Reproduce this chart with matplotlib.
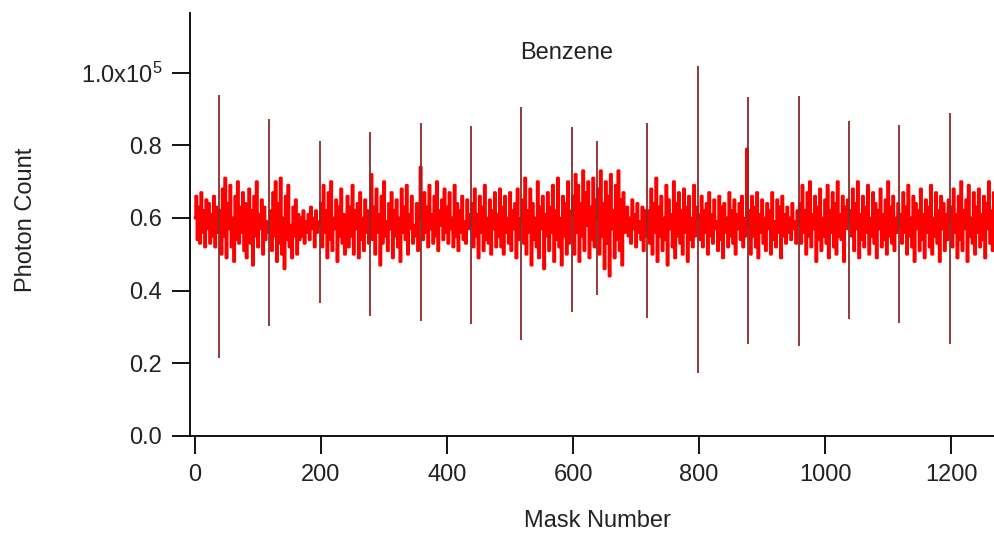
import matplotlib.pyplot as plt
import numpy as np

plt.rcParams['font.family'] = ['Liberation Sans', 'DejaVu Sans']
plt.rcParams['mathtext.fontset'] = 'custom'
plt.rcParams['mathtext.rm'] = 'Liberation Sans'
plt.rcParams['mathtext.it'] = 'Liberation Sans'

# photon counts (x1000) for every second mask number, 0..1270
counts = [
    60, 66, 54, 63, 53, 67, 56, 62, 52, 65, 57, 64, 53, 61, 55, 66, 52, 63, 56, 58,
    62, 50, 68, 55, 71, 49, 64, 57, 69, 52, 60, 48, 66, 54, 70, 53, 63, 56, 67, 51,
    64, 49, 58, 68, 53, 62, 47, 66, 55, 70, 52, 61, 57, 65, 50, 63, 54, 59, 56, 57,
    62, 51, 67, 55, 70, 48, 64, 53, 71, 50, 60, 46, 66, 54, 69, 52, 58, 49, 63, 55,
    65, 50, 61, 54, 60, 55, 62, 53, 59, 56, 61, 54, 63, 57, 60, 52, 62, 56, 59, 58,
    64, 52, 69, 56, 62, 49, 67, 54, 70, 51, 60, 57, 65, 48, 63, 55, 68, 53, 61, 50,
    58, 66, 52, 63, 55, 69, 50, 62, 57, 64, 49, 67, 54, 60, 51, 65, 56, 62, 53, 59,
    72, 54, 63, 50, 68, 56, 61, 47, 66, 53, 70, 55, 59, 51, 64, 57, 67, 49, 62, 55,
    65, 52, 60, 48, 68, 56, 63, 54, 69, 50, 61, 57, 66, 53, 58, 55, 64, 51, 62, 74,
    60, 54, 67, 56, 63, 52, 69, 57, 61, 53, 66, 55, 70, 51, 62, 58, 65, 54, 68, 56,
    63, 53, 67, 57, 60, 52, 69, 55, 64, 51, 62, 56, 66, 54, 59, 53, 65, 57, 61, 58,
    64, 52, 68, 55, 61, 49, 66, 56, 63, 51, 69, 54, 60, 53, 65, 50, 62, 57, 67, 52,
    61, 55, 68, 52, 63, 50, 66, 56, 60, 53, 67, 51, 62, 57, 64, 49, 68, 54, 59, 60,
    65, 53, 71, 50, 62, 56, 68, 47, 64, 54, 60, 52, 70, 49, 63, 57, 66, 46, 61, 55,
    67, 51, 63, 56, 69, 48, 62, 54, 71, 52, 60, 47, 66, 55, 64, 50, 70, 53, 61, 62,
    66, 50, 72, 56, 69, 48, 64, 55, 73, 51, 67, 58, 70, 49, 63, 54, 71, 52, 65, 60,
    68, 50, 73, 55, 64, 46, 70, 53, 66, 44, 72, 57, 62, 49, 69, 54, 73, 51, 65, 47,
    67, 56, 61, 63, 55, 60, 53, 65, 57, 61, 52, 64, 56, 59, 54, 63, 51, 62, 55, 58,
    62, 53, 68, 50, 64, 56, 71, 48, 63, 55, 66, 51, 60, 54, 69, 47, 65, 57, 61, 52,
    70, 49, 64, 55, 67, 53, 62, 50, 68, 56, 63, 48, 66, 54, 60, 52, 69, 55, 63, 61,
    60, 54, 66, 52, 62, 56, 64, 50, 67, 55, 61, 53, 65, 57, 59, 51, 66, 54, 63, 49,
    64, 56, 60, 52, 67, 55, 62, 53, 65, 50, 61, 57, 64, 54, 66, 52, 60, 55, 79, 58,
    62, 50, 66, 55, 63, 52, 67, 49, 61, 56, 65, 53, 60, 51, 64, 57, 62, 50, 67, 54,
    59, 52, 65, 56, 63, 49, 66, 55, 61, 53, 63, 56, 60, 54, 64, 57, 59, 53, 62, 58,
    64, 53, 69, 56, 62, 50, 67, 55, 70, 52, 61, 57, 66, 48, 63, 54, 68, 51, 60, 55,
    65, 53, 69, 49, 62, 56, 67, 52, 64, 50, 70, 55, 61, 54, 66, 48, 63, 57, 65, 59,
    62, 55, 68, 51, 64, 57, 70, 49, 61, 54, 66, 52, 63, 56, 69, 50, 60, 55, 67, 53,
    64, 49, 62, 57, 68, 52, 61, 54, 65, 50, 70, 55, 63, 53, 66, 51, 60, 56, 64, 58,
    61, 53, 67, 56, 63, 50, 69, 55, 60, 52, 66, 48, 64, 57, 62, 51, 68, 54, 61, 49,
    65, 56, 63, 52, 69, 50, 60, 55, 67, 53, 62, 48, 66, 57, 64, 51, 61, 54, 65, 59,
    63, 52, 68, 56, 61, 49, 66, 54, 70, 51, 62, 57, 65, 48, 69, 55, 60, 53, 67, 50,
    63, 56, 68, 52, 61, 54, 66, 49, 64, 57, 70, 53, 62, 51, 67, 55,
]

# calibration masks: sharp up/down excursions
spike_mask = [38, 118, 198, 278, 358, 438, 518, 598, 638, 718, 798, 878, 958, 1038, 1118, 1198]
spike_top = [93.8, 87.2, 81.1, 83.6, 86.1, 85.2, 90.5, 85.0, 81.1, 86.1, 101.8, 93.2, 93.5, 86.6, 85.5, 88.8]
spike_bottom = [21.5, 30.3, 36.7, 33.1, 31.7, 30.9, 26.5, 34.2, 38.9, 32.6, 17.4, 25.4, 24.8, 32.3, 31.2, 25.4]

yticks = [0, 20000, 40000, 60000, 80000, 100000]
ytick_labels = ['0.0', '0.2', '0.4', '0.6', '0.8', r'1.0x10$^{5}$']
xticks = [0, 200, 400, 600, 800, 1000, 1200]

mask = np.arange(0, 2 * len(counts), 2)
photons = np.array(counts) * 1000.0

fig = plt.figure(figsize=(9.94, 5.33), dpi=100)
ax = fig.add_axes([190 / 994, 97 / 533, 804 / 994, 423 / 533])

ax.plot(mask, photons, color='#ff0000', lw=2.0, drawstyle='steps-mid')
ax.vlines(spike_mask, np.array(spike_bottom) * 1000, np.array(spike_top) * 1000,
          color='#8b2a2a', lw=1.3)

ax.set_xlim(-8, 1268)
ax.set_ylim(0, 116400)
ax.set_xticks(xticks)
ax.set_yticks(yticks)
ax.set_yticklabels(ytick_labels)

for side in ['top', 'right']:
    ax.spines[side].set_visible(False)
for side in ['left', 'bottom']:
    ax.spines[side].set_linewidth(1.3)
ax.tick_params(direction='out', length=13, width=1.3, labelsize=17,
               labelcolor='#222222', pad=7)

ax.set_xlabel('Mask Number', fontsize=17, color='#222222')
ax.set_ylabel('Photon Count', fontsize=17, color='#222222')
ax.xaxis.set_label_coords(0.507, -0.175)
ax.yaxis.set_label_coords(-0.19, 0.51)

ax.text(0.468, 0.905, 'Benzene', transform=ax.transAxes, ha='center', va='center',
        fontsize=17, color='#222222')

fig.savefig('out.png', dpi=100)
